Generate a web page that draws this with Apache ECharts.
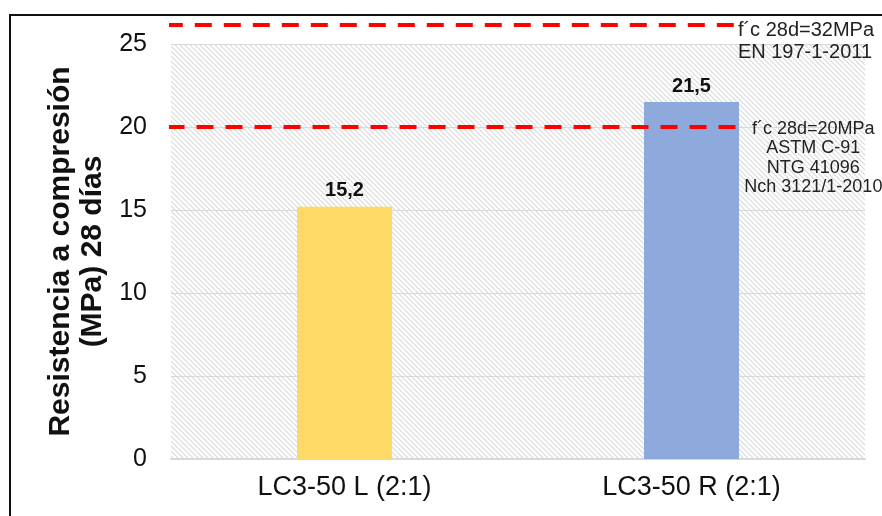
<!DOCTYPE html>
<html>
<head>
<meta charset="utf-8">
<script src="https://cdn.jsdelivr.net/npm/echarts@6/dist/echarts.min.js"></script>
<style>
  html, body { margin: 0; padding: 0; width: 882px; height: 516px; overflow: hidden; background: #fff; }
  .frame { position: absolute; left: 9px; top: 14px; width: 1000px; height: 1000px; border: 2px solid #111; }
  #chart { position: absolute; left: 0; top: 0; width: 882px; height: 516px; }
</style>
</head>
<body>
<div class="frame"></div>
<div id="chart"></div>
<script>
  var categories = ['LC3-50 L (2:1)', 'LC3-50 R (2:1)'];
  var strength = [15.2, 21.5];
  var barColors = ['#FFD966', '#8EA9DB'];
  var yTicks = [0, 5, 10, 15, 20, 25];

  // reference lines (value on y axis, where they start and stop along the x extent 0..2)
  var limitValues = [26.15, 20];
  var limitStart = [-0.015, -0.01];
  var limitEnd = [1.625, 1.635];
  var limitTexts = [
    'f´c 28d=32MPa\nEN 197-1-2011',
    'f´c 28d=20MPa\nASTM C-91\nNTG 41096\nNch 3121/1-2010'
  ];

  // diagonal hatch for the plot background
  var hatch = document.createElement('canvas');
  hatch.width = 5;
  hatch.height = 5;
  var hc = hatch.getContext('2d');
  hc.fillStyle = '#ffffff';
  hc.fillRect(0, 0, 5, 5);
  hc.strokeStyle = '#dadada';
  hc.lineWidth = 1.2;
  hc.beginPath();
  hc.moveTo(-1, -1); hc.lineTo(6, 6);
  hc.moveTo(-1, 4); hc.lineTo(1, 6);
  hc.moveTo(4, -1); hc.lineTo(6, 1);
  hc.stroke();

  var font = 'Liberation Sans, Arial, sans-serif';

  var chart = echarts.init(document.getElementById('chart'));

  var limitLabels = [
    { show: true, position: 'right', distance: 3, align: 'left', verticalAlign: 'top', offset: [0, -5],
      fontFamily: font, fontSize: 20, lineHeight: 22, color: '#222' },
    { show: true, position: 'right', distance: 75, align: 'center', verticalAlign: 'top', offset: [0, -8],
      fontFamily: font, fontSize: 18, lineHeight: 19.5, color: '#222' }
  ];

  var limitSeries = limitValues.map(function (v, i) {
    return {
      type: 'line',
      xAxisIndex: 1,
      clip: false,
      silent: true,
      symbol: 'circle',
      symbolSize: 0,
      showSymbol: true,
      z: 5,
      lineStyle: { color: '#ff0000', width: 4, type: [17, 12] },
      itemStyle: { color: '#ff0000' },
      data: [
        { value: [limitStart[i], v], label: { show: false } },
        { value: [limitEnd[i], v], label: Object.assign({ formatter: limitTexts[i] }, limitLabels[i]) }
      ]
    };
  });

  var option = {
    animation: false,
    grid: {
      left: 171, right: 17, top: 44, bottom: 57,
      show: true,
      borderWidth: 0,
      backgroundColor: { image: hatch, repeat: 'repeat' }
    },
    xAxis: [{
      type: 'category',
      data: categories,
      axisLine: { lineStyle: { color: '#d9d9d9', width: 2 } },
      axisTick: { show: false },
      axisLabel: { color: '#111', fontFamily: font, fontSize: 27, margin: 15 }
    }, {
      type: 'value',
      min: 0, max: 2,
      show: false
    }],
    yAxis: {
      type: 'value',
      min: yTicks[0],
      max: yTicks[yTicks.length - 1],
      interval: 5,
      name: 'Resistencia a compresión\n(MPa) 28 días',
      nameLocation: 'middle',
      nameRotate: 90,
      nameGap: 62,
      nameTextStyle: { fontFamily: font, fontSize: 30, fontWeight: 'bold', color: '#111', lineHeight: 32 },
      axisLine: { show: false },
      axisTick: { show: false },
      axisLabel: { color: '#111', fontFamily: font, fontSize: 25, margin: 24 },
      splitLine: { lineStyle: { color: '#d9d9d9', width: 1 } }
    },
    series: [{
      type: 'bar',
      barWidth: 95,
      z: 3,
      data: strength.map(function (v, i) {
        return { value: v, itemStyle: { color: barColors[i] } };
      }),
      label: {
        show: true,
        position: 'top',
        distance: 6,
        fontFamily: font,
        fontSize: 20,
        fontWeight: 'bold',
        color: '#111',
        formatter: function (p) { return String(p.value).replace('.', ','); }
      }
    }].concat(limitSeries)
  };

  chart.setOption(option);
</script>
</body>
</html>
